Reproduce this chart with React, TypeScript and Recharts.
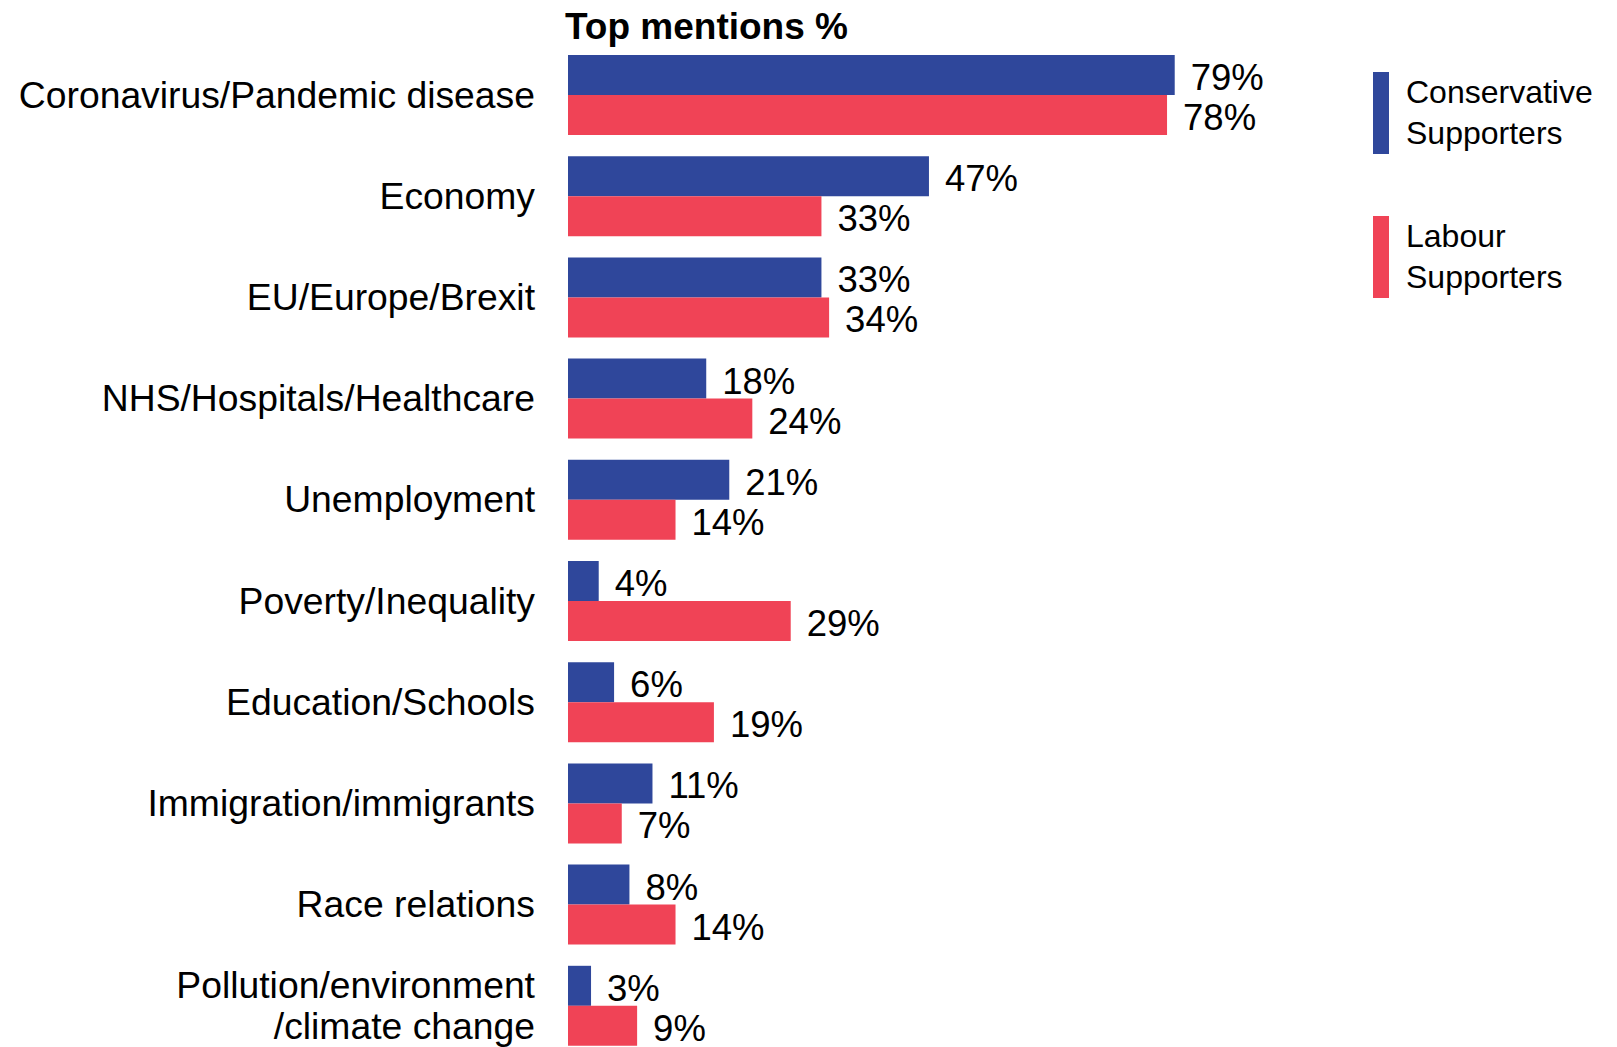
import { BarChart, Bar, XAxis, YAxis, LabelList } from 'recharts';

const categories = [
  'Coronavirus/Pandemic disease',
  'Economy',
  'EU/Europe/Brexit',
  'NHS/Hospitals/Healthcare',
  'Unemployment',
  'Poverty/Inequality',
  'Education/Schools',
  'Immigration/immigrants',
  'Race relations',
  'Pollution/environment\n/climate change',
];
const conservative = [79, 47, 33, 18, 21, 4, 6, 11, 8, 3];
const labour = [78, 33, 34, 24, 14, 29, 19, 7, 14, 9];

const data = categories.map((name, i) => ({ name, con: conservative[i], lab: labour[i] }));

const BLUE = '#2F479B';
const RED = '#F04356';
const FONT = '"Liberation Sans", Arial, sans-serif';

const CategoryTick = ({ x, y, payload }: any) => {
  const lines = String(payload.value).split('\n');
  const lh = 41;
  const first = -((lines.length - 1) * lh) / 2;
  return (
    <text x={x} y={y} textAnchor="end" fontSize={37.3} fill="#000" fontFamily={FONT}>
      {lines.map((l, i) => (
        <tspan key={i} x={x} dy={i === 0 ? first + 13 : lh}>
          {l}
        </tspan>
      ))}
    </text>
  );
};

const legendItems = [
  { c: BLUE, t: ['Conservative', 'Supporters'] },
  { c: RED, t: ['Labour', 'Supporters'] },
];

const LegendBox = () => (
  <div
    style={{
      position: 'absolute',
      left: 1373,
      top: 72,
      fontFamily: FONT,
      fontSize: 32,
      lineHeight: '41px',
      color: '#000',
    }}
  >
    {legendItems.map((it, i) => (
      <div key={i} style={{ display: 'flex', alignItems: 'flex-start', marginBottom: i === 0 ? 62 : 0 }}>
        <div style={{ width: 16, height: 82, background: it.c, marginRight: 17 }} />
        <div>
          {it.t.map((s) => (
            <div key={s}>{s}</div>
          ))}
        </div>
      </div>
    ))}
  </div>
);

export default function App() {
  return (
    <div style={{ position: 'absolute', left: 0, top: 0, width: 1617, height: 1047, overflow: 'hidden', background: '#fff' }}>
      <div
        style={{
          position: 'absolute',
          left: 565,
          top: 8,
          fontFamily: FONT,
          fontWeight: 'bold',
          fontSize: 37,
          lineHeight: '37px',
          color: '#000',
        }}
      >
        Top mentions %
      </div>
      <BarChart
        width={1617}
        height={1060}
        data={data}
        layout="vertical"
        margin={{ top: 44, right: 281, bottom: 4, left: 0 }}
        barSize={40}
        barGap={0}
      >
        <XAxis type="number" domain={[0, 100]} hide />
        <YAxis
          type="category"
          dataKey="name"
          width={568}
          axisLine={false}
          tickLine={false}
          tickSize={0}
          tickMargin={33}
          interval={0}
          tick={<CategoryTick />}
        />
        <Bar dataKey="con" fill={BLUE} isAnimationActive={false}>
          <LabelList dataKey="con" position="right" offset={16} dy={2} formatter={(v: any) => `${v}%`} fontSize={36.5} fill="#000" fontFamily={FONT} />
        </Bar>
        <Bar dataKey="lab" fill={RED} isAnimationActive={false}>
          <LabelList dataKey="lab" position="right" offset={16} dy={2} formatter={(v: any) => `${v}%`} fontSize={36.5} fill="#000" fontFamily={FONT} />
        </Bar>
      </BarChart>
      <LegendBox />
    </div>
  );
}
